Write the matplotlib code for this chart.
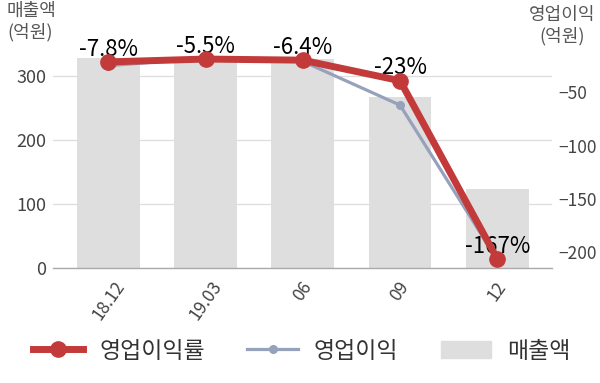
import matplotlib
matplotlib.use("Agg")
import matplotlib.pyplot as plt
from matplotlib.lines import Line2D
from matplotlib.patches import Patch

plt.rcParams['font.family'] = ['Noto Sans CJK KR', 'DejaVu Sans']

categories = ["18.12", "19.03", "06", "09", "12"]
sales = [329, 327, 326, 267, 124]            # 매출액 (억원)
op_profit = [-25, -18, -21, -62, -207]       # 영업이익 (억원)
op_margin = [-7.8, -5.5, -6.4, -23, -167]    # 영업이익률 (%)
margin_labels = ["-7.8%", "-5.5%", "-6.4%", "-23%", "-167%"]

RED = "#C23A3A"
BLUE = "#96A1BB"
BAR = "#DEDEDE"
TXT = "#444444"

fig = plt.figure(figsize=(6.0, 3.83), dpi=100)
ax = fig.add_axes([53/600, 1-268/383, (551.7-53)/600, (268-39)/383])
x = list(range(len(categories)))

ax.bar(x, sales, width=0.645, color=BAR, zorder=2)
ax.set_xlim(-0.57, 4.56)
ax.set_ylim(0, 358)
ax.set_yticks([0, 100, 200, 300])
ax.set_axisbelow(True)
ax.grid(axis='y', color="#DDDDDD", lw=0.9)
ax.tick_params(axis='y', length=0, pad=5, labelsize=13, labelcolor=TXT)
ax.set_xticks(x)
ax.set_xticklabels(categories, rotation=55, ha='center', fontsize=12.5, color=TXT)
ax.tick_params(axis='x', length=0, pad=7)
for s in ['top', 'right', 'left']:
    ax.spines[s].set_visible(False)
ax.spines['bottom'].set_color("#AAAAAA")
ax.spines['bottom'].set_linewidth(1.0)

ax2 = ax.twinx()
ax2.plot(x, op_profit, color=BLUE, lw=2.3, marker='o', ms=5.5, zorder=3)
ax2.set_ylim(-214.7, 0)
ax2.set_yticks([-50, -100, -150, -200])
ax2.tick_params(axis='y', length=0, pad=5, labelsize=12.5, labelcolor=TXT)
for s in ax2.spines.values():
    s.set_visible(False)

ax3 = ax.twinx()
ax3.plot(x, op_margin, color=RED, lw=5, marker='o', ms=11, zorder=4)
ax3.set_ylim(-174.3, 10.7)
ax3.set_yticks([])
for s in ax3.spines.values():
    s.set_visible(False)
for xi, v, lab in zip(x, op_margin, margin_labels):
    ax3.annotate(lab, (xi, v), xytext=(0, 4.5), textcoords='offset points',
                 ha='center', va='baseline', fontsize=16, color='black')

fig.text(7/600, 1-2/383, "매출액\n(억원)", ha='left', va='top', fontsize=13,
         color="#555555", linespacing=1.2)
fig.text(562/600, 1-6/383, "영업이익\n(억원)", ha='center', va='top', fontsize=13,
         color="#555555", linespacing=1.2, multialignment='center')

handles = [
    Line2D([], [], color=RED, lw=5, marker='o', ms=11),
    Line2D([], [], color=BLUE, lw=2.3, marker='o', ms=5.5),
    Patch(color=BAR),
]
labels = ["영업이익률", "영업이익", "매출액"]
fig.legend(handles, labels, loc='center left', bbox_to_anchor=(33/600, 1-351/383),
           ncol=3, frameon=False, fontsize=16.5, handlelength=2.2,
           handletextpad=0.7, columnspacing=1.85, borderpad=0, borderaxespad=0,
           labelcolor="#333333")

fig.savefig("out.png", dpi=100)
